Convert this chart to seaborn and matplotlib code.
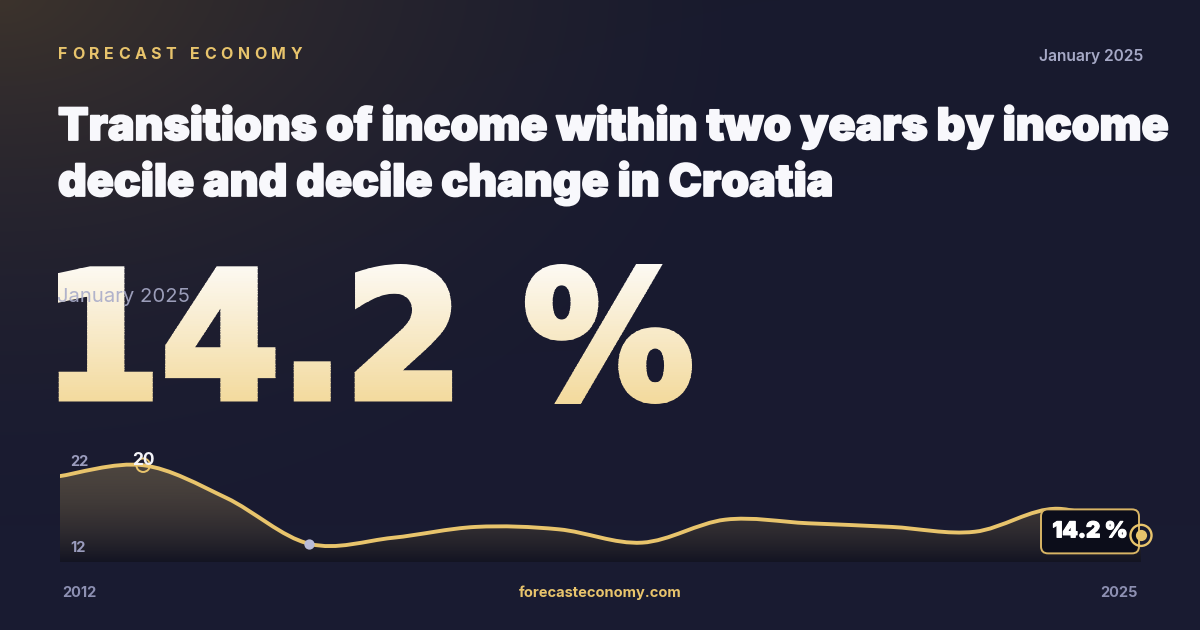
import numpy as np
import pandas as pd
import matplotlib
matplotlib.use("Agg")
import matplotlib.pyplot as plt
import matplotlib.patheffects as pe
import seaborn as sns
from matplotlib.path import Path
from matplotlib.patches import PathPatch, Rectangle, FancyBboxPatch
from matplotlib.textpath import TextPath
from matplotlib.font_manager import FontProperties
from matplotlib.transforms import Affine2D

# ---- data ----
years = [2012, 2013, 2014, 2015, 2016, 2017, 2018, 2019, 2020, 2021, 2022, 2023, 2024, 2025]
values = [19.1, 20.0, 17.3, 13.5, 14.0, 14.9, 14.7, 13.6, 15.5, 15.2, 14.9, 14.5, 16.4, 14.2]
y_range = [12, 22]
headline = "14.2 %"
title_lines = ["Transitions of income within two years by income",
               "decile and decile change in Croatia"]
brand = "FORECAST ECONOMY"
date_label = "January 2025"
site = "forecasteconomy.com"

df = pd.DataFrame({"year": years, "value": values})

GOLD = "#e8c46c"
NAVY = "#181a2e"
GREY = "#9a9cbd"
WHITE = "#f8f8fc"

sns.set_theme(style="white")
plt.rcParams["font.family"] = ["Inter", "DejaVu Sans"]

W, H = 1200, 630
fig = plt.figure(figsize=(12, 6.3), dpi=100)
fig.patch.set_facecolor(NAVY)

# ---- background with warm glow top-left ----
bg = fig.add_axes([0, 0, 1, 1], zorder=0)
yy, xx = np.mgrid[0:H, 0:W]
base = np.array([24, 26, 46]) / 255
warm = np.array([60, 51, 44]) / 255
low = np.array([27, 28, 52]) / 255
glow = np.clip(1 - np.sqrt(xx ** 2 + (yy * 1.5) ** 2) / 780, 0, 1) ** 1.4
img = base * (1 - glow)[..., None] + warm * glow[..., None]
t = (yy / H)[..., None] * 0.6
img = img * (1 - t) + low * t
bg.imshow(img, extent=(0, W, H, 0), aspect="auto", zorder=0)
bg.set_xlim(0, W)
bg.set_ylim(H, 0)
bg.axis("off")

renderer = fig.canvas.get_renderer()


def fit(txt, width_px):
    w = txt.get_window_extent(renderer).width
    txt.set_fontsize(txt.get_fontsize() * width_px / w)


# brand, letter spaced
def spaced(x, y, s, width_px, **kw):
    widths = []
    for ch in s:
        if ch == " ":
            widths.append(None)
            continue
        tt = bg.text(0, 0, ch, **kw)
        widths.append(tt.get_window_extent(renderer).width)
        tt.remove()
    space = 0.3 * kw["fontsize"] * 100 / 72
    total = sum(w if w is not None else space for w in widths)
    track = (width_px - total) / (len(s) - 1)
    cx = x
    for ch, w in zip(s, widths):
        if w is None:
            cx += space + track
            continue
        bg.text(cx, y, ch, ha="left", va="baseline", **kw)
        cx += w + track


spaced(58, 59, brand, 244, fontsize=11.5, fontweight="bold", color=GOLD)

dt = bg.text(1143, 61, date_label, ha="right", va="baseline", fontsize=11.5,
             fontweight="semibold", color="#a6a9c6")
fit(dt, 105)

# title, thickened a little with a same-colour stroke
thick = [pe.withStroke(linewidth=1.3, foreground=WHITE)]
t1 = bg.text(58, 140, title_lines[0], ha="left", va="baseline", fontsize=32,
             fontweight=900, color=WHITE, path_effects=thick)
fit(t1, 1114)
bg.text(58, 196, title_lines[1], ha="left", va="baseline",
        fontsize=t1.get_fontsize(), fontweight=900, color=WHITE, path_effects=thick)

# ---- big headline number, vertical white->gold gradient ----
fp = FontProperties(family="DejaVu Sans", weight="bold")
tp = TextPath((0, 0), headline, size=100, prop=fp)
ext = tp.get_extents()
lw = 5.0
pad = lw * 100 / 72 / 2
x0, x1, top, base_y = 58 + pad, 692 - pad, 264 + pad, 404 - pad
sx = (x1 - x0) / ext.width
sy = (base_y - top) / ext.height
tr = Affine2D().translate(-ext.x0, -ext.y0).scale(sx, -sy).translate(x0, base_y) + bg.transData
top_c = np.array([253, 251, 247]) / 255
bot_c = np.array([242, 216, 152]) / 255
nb = 60
edges = np.linspace(258, 410, nb + 1)
for i in range(nb):
    f = (i + 0.5) / nb
    c = top_c * (1 - f) + bot_c * f
    p = PathPatch(tp, transform=tr, facecolor=c, edgecolor=c, lw=lw, zorder=3,
                  joinstyle="miter")
    bg.add_patch(p)
    band = Rectangle((0, edges[i]), W, edges[i + 1] - edges[i] + 0.6,
                     transform=bg.transData, visible=False)
    bg.add_patch(band)
    p.set_clip_path(band)

ov = bg.text(57, 302, date_label, ha="left", va="baseline", fontsize=16,
             color="#a9acc9", alpha=0.9, zorder=5)
fit(ov, 133)

# ---- chart ----
ax = fig.add_axes([60 / W, 1 - 562 / H, (1141 - 60) / W, (562 - 441) / H], zorder=2)
ax.set_facecolor("none")
ax.set_xlim(years[0], years[-1])
ax.set_ylim(*y_range)
ax.axis("off")

pts = df[["year", "value"]].to_numpy(float)
ext_pts = np.vstack([pts[0], pts, pts[-1]])
verts = [pts[0]]
codes = [Path.MOVETO]
for i in range(len(pts) - 1):
    p0, p1, p2, p3 = ext_pts[i], ext_pts[i + 1], ext_pts[i + 2], ext_pts[i + 3]
    verts += [p1 + (p2 - p0) / 6, p2 - (p3 - p1) / 6, p2]
    codes += [Path.CURVE4] * 3

area = Path(verts + [(years[-1], y_range[0]), (years[0], y_range[0]), pts[0]],
            codes + [Path.LINETO, Path.LINETO, Path.CLOSEPOLY])
area_patch = PathPatch(area, facecolor="none", edgecolor="none")
ax.add_patch(area_patch)
grad = np.zeros((100, 2, 4))
fr = np.linspace(0, 1, 100)[:, None]
top_rgba = np.array([0.91, 0.77, 0.45, 0.26])
bot_rgba = np.array([0.06, 0.06, 0.09, 0.55])
grad[:] = (bot_rgba * (1 - fr) + top_rgba * fr)[:, None, :]
im = ax.imshow(grad, extent=(years[0], years[-1], y_range[0], y_range[1]),
               origin="lower", aspect="auto", zorder=1)
im.set_clip_path(area_patch)

ax.add_patch(PathPatch(Path(verts, codes), fill=False, edgecolor=GOLD, lw=2.8,
                       capstyle="round", joinstyle="round", zorder=3))

peak = df.loc[df["value"].idxmax()]
low_pt = df.loc[df["value"].idxmin()]
last = df.iloc[-1]

# value box next to the last point (pixel offsets from the point)
ex, ey = ax.transData.transform((last["year"], last["value"]))
box_tr = Affine2D().translate(ex, ey)
box = FancyBboxPatch((-100, -18), 98, 44, boxstyle="round,pad=0,rounding_size=7",
                     facecolor="#0c0d1a", edgecolor="#d9b565", lw=1.4,
                     transform=box_tr, zorder=5, clip_on=False)
ax.add_patch(box)
lab = ax.annotate(f"{last['value']:.1f} %", (last["year"], last["value"]),
                  xytext=(-51 * 0.72, 4 * 0.72), textcoords="offset points",
                  ha="center", va="center", fontsize=14, fontweight=900,
                  color="white", zorder=7, annotation_clip=False,
                  path_effects=[pe.withStroke(linewidth=0.8, foreground="white")])
fit(lab, 75)

sns.scatterplot(x=[peak["year"]], y=[peak["value"]], ax=ax, s=95, marker="o",
                facecolor="none", edgecolor=GOLD, linewidth=1.4, zorder=4, clip_on=False)
sns.scatterplot(x=[low_pt["year"]], y=[low_pt["value"]], ax=ax, s=55,
                color="#b9bcd8", linewidth=0, zorder=4, clip_on=False)
sns.scatterplot(x=[last["year"]], y=[last["value"]], ax=ax, s=230, marker="o",
                facecolor="none", edgecolor=GOLD, linewidth=1.7, zorder=8, clip_on=False)
sns.scatterplot(x=[last["year"]], y=[last["value"]], ax=ax, s=65,
                color=GOLD, linewidth=0, zorder=8, clip_on=False)
ax.annotate(f"{peak['value']:.0f}", (peak["year"], peak["value"]), xytext=(0, 3.5),
            textcoords="offset points", ha="center", va="center", fontsize=12.5,
            fontweight="bold", color="#f4f4f8", zorder=5)

# range labels (above the chart fill) and footer
for lbl, ypx in [(y_range[1], 466), (y_range[0], 552)]:
    fig.text(70, ypx, str(lbl), ha="left", va="baseline", fontsize=10.5,
             fontweight="bold", color=GREY, transform=bg.transData, zorder=10)
bg.text(62, 597, str(years[0]), ha="left", va="baseline", fontsize=10.5,
        fontweight="bold", color="#8d90b2")
bg.text(1138, 597, str(years[-1]), ha="right", va="baseline", fontsize=10.5,
        fontweight="bold", color="#8d90b2")
st = bg.text(600, 597, site, ha="center", va="baseline", fontsize=10.5,
             fontweight="bold", color=GOLD)
fit(st, 163)

fig.savefig("out.png", dpi=100, facecolor=fig.get_facecolor())
